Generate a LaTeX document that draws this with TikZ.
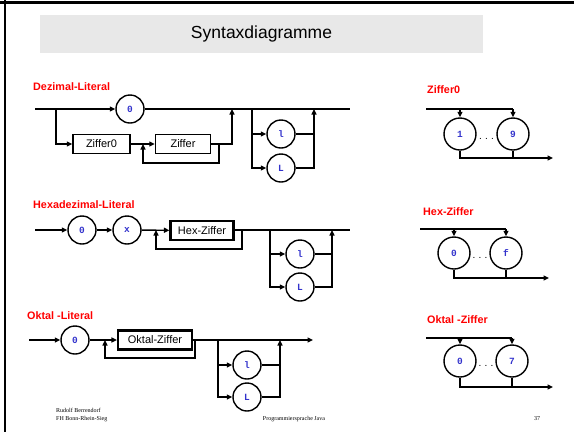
\documentclass[tikz,border=0pt]{standalone}
\usepackage{fontspec}
\setmainfont{Liberation Sans}
\newfontfamily\monof{Liberation Mono}
\newfontfamily\seriff{Liberation Serif}
\usetikzlibrary{arrows.meta}
\definecolor{termblue}{RGB}{51,51,204}
\definecolor{titlegray}{RGB}{232,232,232}
\definecolor{lblred}{RGB}{255,0,0}
\begin{document}
\begin{tikzpicture}[x=1pt,y=-1pt,
 rail/.style={line width=1.4pt},
 arr/.style={rail,-{Triangle[length=5.5pt,width=5pt]}},
 term/.style={circle,draw,line width=1.4pt,minimum size=28pt,inner sep=0pt,font=\monof\bfseries\fontsize{9.5}{9.5}\selectfont,text=termblue},
 bigterm/.style={term,minimum size=32pt},
 nterm/.style={draw,line width=1.4pt,minimum height=19pt,inner sep=0pt,font=\fontsize{11}{12}\selectfont},
 thickterm/.style={nterm,line width=2.2pt},
 lbl/.style={anchor=west,text=lblred,font=\bfseries\fontsize{10.8}{12}\selectfont,inner sep=0pt},
 foot/.style={font=\seriff\fontsize{6}{7}\selectfont,inner sep=0pt},
 dots/.style={font=\fontsize{10}{10}\selectfont,inner sep=0pt}]
\useasboundingbox (0,0) rectangle (574,432);
% frame
\draw[line width=2.2pt] (0,2.5) -- (574,2.5);
\draw[line width=2.2pt] (5.3,0) -- (5.3,432);
% title
\node[fill=titlegray,minimum width=443pt,minimum height=38pt,inner sep=0pt,font=\fontsize{17.5}{20}\selectfont] (title) at (261.5,34) {Syntaxdiagramme};

% ---------------- Dezimal-Literal
\node[lbl] (dlab) at (33,87) {Dezimal-Literal};
\coordinate (ds) at (35,109);
\coordinate (dj1) at (56,109);
\coordinate (dj4) at (232,109);
\coordinate (dj2) at (252,109);
\coordinate (dj3) at (314,109);
\coordinate (de) at (350,109);
\node[term] (d0) at (130,109) {0};
\draw[arr] (ds) -- (d0);
\draw[rail] (d0) -- (de);
\node[nterm,minimum width=57pt] (dz0) at (101.5,144) {Ziffer0};
\node[nterm,minimum width=55pt] (dz) at (183,144) {Ziffer};
\coordinate (dl1) at (143,144);
\coordinate (dl2) at (219,144);
\coordinate (dk) at (232,144);
\coordinate (dlr) at (219,163);
\coordinate (dll) at (143,163);
\draw[arr] (dj1) |- (dz0);
\draw[arr] (dz0) -- (dz);
\draw[rail] (dz) -- (dl2);
\draw[arr] (dl2) -- (dk) -- (dj4);
\draw[arr] (dl2) -- (dlr) -- (dll) -- (dl1);
\node[term] (dl) at (281,134) {l};
\node[term] (dL) at (281,168) {L};
\coordinate (dr1) at (314,134);
\draw[arr] (dj2) |- (dl);
\draw[arr] (dj2) |- (dL);
\draw[rail] (dl) -- (dr1);
\draw[arr] (dL) -| (dj3);

% ---------------- Hexadezimal-Literal
\node[lbl] (hlab) at (33,205) {Hexadezimal-Literal};
\coordinate (hs) at (35,230);
\node[term] (h0) at (82,230) {0};
\node[term] (hx) at (127,230) {x};
\node[thickterm,minimum width=63pt] (hz) at (202,230.5) {Hex-Ziffer};
\coordinate (hl1) at (156,230);
\coordinate (hl2) at (242,230);
\coordinate (hlr) at (242,249);
\coordinate (hll) at (156,249);
\coordinate (hj2) at (270,230);
\coordinate (hj3) at (332,230);
\coordinate (he) at (350,230);
\draw[arr] (hs) -- (h0);
\draw[arr] (h0) -- (hx);
\draw[arr] (hx) -- (hz);
\draw[rail] (hz.east |- hl2) -- (he);
\draw[arr] (hl2) -- (hlr) -- (hll) -- (hl1);
\node[term] (hl) at (300,254) {l};
\node[term] (hL) at (300,287) {L};
\coordinate (hr1) at (332,254);
\draw[arr] (hj2) |- (hl);
\draw[arr] (hj2) |- (hL);
\draw[rail] (hl) -- (hr1);
\draw[arr] (hL) -| (hj3);

% ---------------- Oktal-Literal
\node[lbl] (olab) at (27,316) {Oktal -Literal};
\coordinate (os) at (29,340);
\node[term] (o0) at (75,340) {0};
\node[thickterm,minimum width=74pt] (oz) at (155,340) {Oktal-Ziffer};
\coordinate (ol1) at (105,340);
\coordinate (ol2) at (195,340);
\coordinate (olr) at (195,358);
\coordinate (oll) at (105,358);
\coordinate (oj2) at (218,340);
\coordinate (oj3) at (280,340);
\coordinate (oe) at (313,340);
\draw[arr] (os) -- (o0);
\draw[arr] (o0) -- (oz);
\draw[arr] (oz) -- (oe);
\draw[arr] (ol2) -- (olr) -- (oll) -- (ol1);
\node[term] (ol) at (247,365) {l};
\node[term] (oL) at (247,397) {L};
\coordinate (or1) at (280,365);
\draw[arr] (oj2) |- (ol);
\draw[arr] (oj2) |- (oL);
\draw[rail] (ol) -- (or1);
\draw[arr] (oL) -| (oj3);

% ---------------- Ziffer0
\node[lbl] (zlab) at (427,90) {Ziffer0};
\coordinate (zt) at (426,109);
\coordinate (zt2) at (513,109);
\coordinate (zb) at (553,158);
\node[bigterm] (z1) at (460,134) {1};
\node[bigterm] (z9) at (513,134) {9};
\node[dots] (zd) at (486.5,139) {.\,\,.\,\,.};
\draw[rail] (zt) -- (zt2);
\draw[arr] (z1 |- zt) -- (z1);
\draw[arr] (zt2) -- (z9);
\draw[arr] (z1) |- (zb);
\draw[rail] (z9) -- (z9 |- zb);

% ---------------- Hex-Ziffer
\node[lbl] (xlab) at (423,212) {Hex-Ziffer};
\coordinate (xt) at (420,229);
\coordinate (xt2) at (506,229);
\coordinate (xb) at (549,278);
\node[bigterm] (x0) at (454,253) {0};
\node[bigterm] (xf) at (506,253) {f};
\node[dots] (xd) at (480,258) {.\,\,.\,\,.};
\draw[rail] (xt) -- (xt2);
\draw[arr] (x0 |- xt) -- (x0);
\draw[arr] (xt2) -- (xf);
\draw[arr] (x0) |- (xb);
\draw[rail] (xf) -- (xf |- xb);

% ---------------- Oktal-Ziffer
\node[lbl] (klab) at (427,320) {Oktal -Ziffer};
\coordinate (kt) at (426,338);
\coordinate (kt2) at (512,338);
\coordinate (kb) at (553,387);
\node[bigterm] (k0) at (460,361) {0};
\node[bigterm] (k7) at (512,361) {7};
\node[dots] (kd) at (486,366) {.\,\,.\,\,.};
\draw[rail] (kt) -- (kt2);
\draw[arr] (k0 |- kt) -- (k0);
\draw[arr] (kt2) -- (k7);
\draw[arr] (k0) |- (kb);
\draw[rail] (k7) -- (k7 |- kb);

% ---------------- footer
\node[foot,anchor=west] (f1) at (56,410) {Rudolf Berrendorf};
\node[foot,anchor=west] (f2) at (56,419) {FH Bonn-Rhein-Sieg};
\node[foot] (f3) at (294,419) {Programmiersprache Java};
\node[foot] (f4) at (537,419) {37};
\end{tikzpicture}
\end{document}
